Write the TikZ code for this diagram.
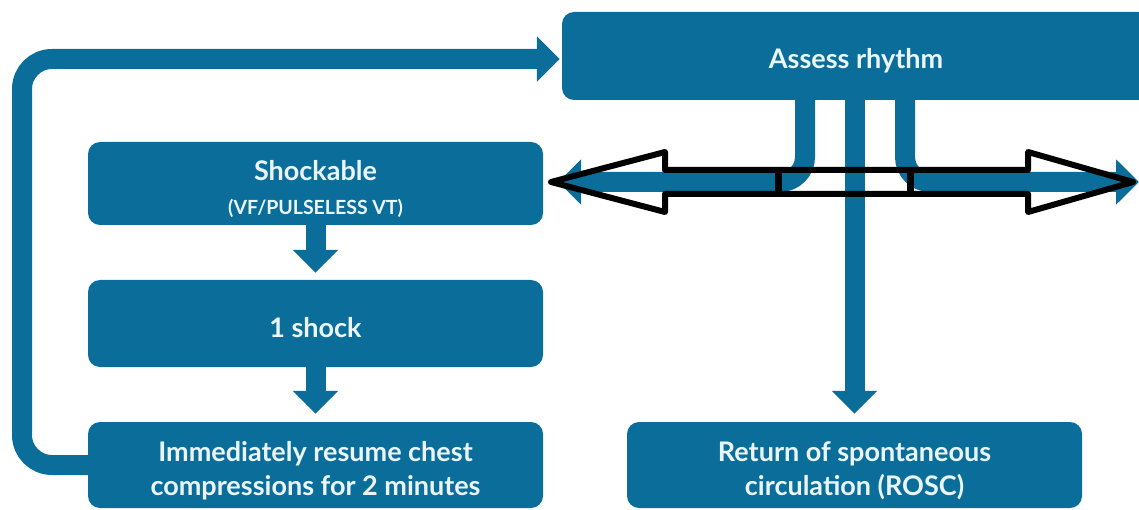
\documentclass[tikz,border=0pt]{standalone}
\usepackage{fontspec}
\setmainfont{Lato}
\usetikzlibrary{arrows.meta,calc}
\definecolor{cprblue}{HTML}{0B6E9A}
\definecolor{cprtext}{HTML}{EAF6FB}
\newcommand{\txtdown}[2]{\raisebox{-#1}[\height][\depth]{#2}}
\begin{document}
\begin{tikzpicture}[x=1pt,y=-1pt,
  box/.style={fill=cprblue, rounded corners=12pt, text=cprtext, align=center,
    inner sep=0pt, font=\bfseries\fontsize{27}{34}\selectfont},
  flow/.style={draw=cprblue, line width=20pt, -{Triangle[length=23pt,width=44pt]}},
  overlay/.style={draw=black, line width=6pt, line join=round}]
\useasboundingbox (0,0) rectangle (1139,510);
% boxes
\node[box, minimum width=588pt, minimum height=88pt] (assess) at (856,56)
  {\txtdown{5pt}{Assess rhythm}};
\node[box, minimum width=455pt, minimum height=83pt] (shock) at (315.5,183.5)
  {\txtdown{7pt}{Shockable}\\[3pt]\txtdown{4pt}{\fontsize{19.5}{22}\selectfont (VF/PULSELESS VT)}};
\node[box, minimum width=455pt, minimum height=87pt] (oneshock) at (315.5,323.5)
  {\txtdown{4pt}{1 shock}};
\node[box, minimum width=455pt, minimum height=86pt] (resume) at (315.5,465)
  {\txtdown{6pt}{Immediately resume chest}\\\txtdown{6pt}{compressions for 2 minutes}};
\node[box, minimum width=455pt, minimum height=86pt] (rosc) at (854.5,465)
  {\txtdown{6pt}{Return of spontaneous}\\\txtdown{6pt}{circulation (ROSC)}};
% connectors
\coordinate (bl) at (805,95);
\coordinate (br) at (905,95);
\coordinate (rend) at (1139,182);
\draw[flow] (shock.south) -- ($(oneshock.north)+(0,-7)$);
\draw[flow] (oneshock.south) -- ($(resume.north)+(0,-8)$);
\draw[flow] (assess.south -| rosc.north) -- ($(rosc.north)+(0,-8)$);
\draw[flow, rounded corners=30pt] (resume.west) -| (22,300) |- ($(assess.west)+(-2,3)$);
\draw[flow, rounded corners=25pt] (bl) |- ($(shock.east)+(15,-1.5)$);
\draw[flow, rounded corners=25pt] (br) |- (rend);
% black hollow double arrow overlay
\draw[overlay] (551,182) -- (665,152) -- (665,170) -- (1028,170) -- (1028,152)
  -- (1133,182) -- (1028,212) -- (1028,194) -- (665,194) -- (665,212) -- cycle;
\draw[overlay, line width=7pt] (778,170) -- (778,194) (910,170) -- (910,194);
\end{tikzpicture}
\end{document}
